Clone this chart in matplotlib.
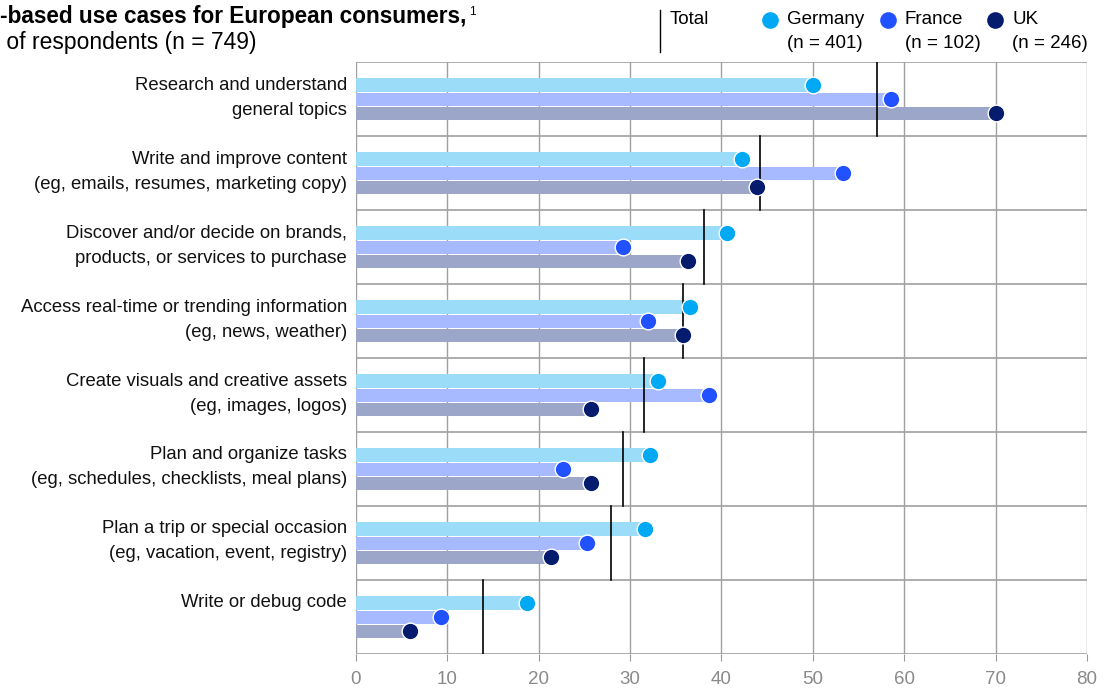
import numpy as np
import matplotlib.pyplot as plt
from matplotlib.lines import Line2D

plt.rcParams['font.family'] = ['Liberation Sans', 'DejaVu Sans']

categories = [
    "Research and understand\ngeneral topics",
    "Write and improve content\n(eg, emails, resumes, marketing copy)",
    "Discover and/or decide on brands,\nproducts, or services to purchase",
    "Access real-time or trending information\n(eg, news, weather)",
    "Create visuals and creative assets\n(eg, images, logos)",
    "Plan and organize tasks\n(eg, schedules, checklists, meal plans)",
    "Plan a trip or special occasion\n(eg, vacation, event, registry)",
    "Write or debug code",
]
germany = [50.0, 42.2, 40.6, 36.6, 33.1, 32.2, 31.6, 18.7]
france = [58.5, 53.3, 29.2, 32.0, 38.6, 22.7, 25.3, 9.3]
uk = [70.0, 43.9, 36.3, 35.8, 25.7, 25.7, 21.3, 5.9]
total = [57.0, 44.2, 38.1, 35.8, 31.5, 29.2, 27.9, 13.9]

series = [
    ("Germany", "(n = 401)", germany, "#9bddf9", "#00a9f4"),
    ("France", "(n = 102)", france, "#a7b9ff", "#2251ff"),
    ("UK", "(n = 246)", uk, "#9ca6c9", "#051c6e"),
]
offsets = [-0.185, 0.005, 0.195]
bar_h = 0.185

fig = plt.figure(figsize=(11.11, 6.9), dpi=100)
ax = fig.add_axes([0.3204, 0.0522, 0.658, 0.8579])

y = np.arange(len(categories))
for (name, n, vals, bar_c, dot_c), off in zip(series, offsets):
    ax.barh(y + off, vals, height=bar_h, color=bar_c, zorder=2)
    ax.plot(vals, y + off, "o", ms=12, color=dot_c, mec="white", mew=1, zorder=4)

for i, t in enumerate(total):
    ax.plot([t, t], [i - 0.5, i + 0.5], color="black", lw=1.2, zorder=3)

ax.set_xlim(0, 80)
ax.set_ylim(len(categories) - 0.5, -0.5)
ax.set_xticks(np.arange(0, 81, 10))
ax.set_yticks([])
ax.tick_params(axis="x", length=5, color="#999999", labelsize=13.5,
               labelcolor="#8a8a8a", pad=7)

# category labels sit near the top of each row
row_px = 74.0
for i, label in enumerate(categories):
    for k, line in enumerate(label.split("\n")):
        ax.text(-0.012, i - 0.5 + (23 + 25 * k) / row_px, line,
                transform=ax.get_yaxis_transform(), ha="right", va="center",
                fontsize=13.3, color="#111111")

for x in np.arange(0, 81, 10):
    ax.axvline(x, color="#a0a0a0", lw=1.0, zorder=1)
for b in np.arange(-0.5, len(categories), 1):
    ax.axhline(b, color="#a0a0a0", lw=1.2, zorder=1)
for s in ax.spines.values():
    s.set_visible(False)

# header text
head = fig.text(0.0, 1 - 17 / 690, "-based use cases for European consumers,",
                fontsize=16.3, fontweight="bold", va="center", ha="left")
fig.text(0.0, 1 - 43 / 690, " of respondents (n = 749)", fontsize=16.5,
         va="center", ha="left")
fig.canvas.draw()
bb = head.get_window_extent()
fig.text(bb.x1 / 1111 + 0.002, 1 - 12 / 690, "1", fontsize=8.5, va="center", ha="left")

# legend
fig.add_artist(Line2D([660 / 1111, 660 / 1111], [1 - 10 / 690, 1 - 52 / 690],
                      color="black", lw=1.0))
fig.text(670 / 1111, 1 - 20 / 690, "Total", fontsize=13.5, va="center", ha="left")
for (name, n, vals, bar_c, dot_c), dx in zip(series, [770, 888, 995]):
    fig.add_artist(Line2D([dx / 1111], [1 - 20 / 690], marker="o", ms=12,
                          color=dot_c, mec="white", mew=0))
    fig.text((dx + 17) / 1111, 1 - 20 / 690, name, fontsize=13.5, va="center", ha="left")
    fig.text((dx + 17) / 1111, 1 - 43 / 690, n, fontsize=13.5, va="center", ha="left")

fig.savefig("out.png", dpi=100)
